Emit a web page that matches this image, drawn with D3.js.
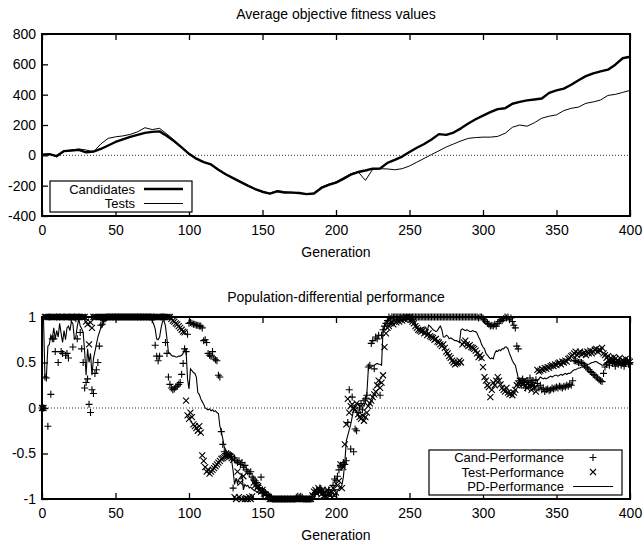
<!DOCTYPE html>
<html>
<head>
<meta charset="utf-8">
<script src="https://cdn.jsdelivr.net/npm/d3@7"></script>
<style>
	body { margin: 0; background: #fff; }
	svg { display: block; font-family: "Liberation Sans", Arial, sans-serif; }
</style>
</head>
<body>
<script>
// ---- top panel: average objective fitness, one value every 5 generations (0..400)
var fitStep = 5
var candidates = [
	5, 8, -5, 28, 32, 36, 20, 25, 42, 65,
	88, 105, 122, 135, 148, 155, 158, 128, 92, 52,
	10, -22, -45, -60, -95, -125, -150, -175, -200, -222,
	-240, -252, -238, -245, -246, -248, -256, -252, -215, -195,
	-180, -155, -128, -110, -100, -88, -87, -50, -30, -8,
	22, 50, 75, 105, 140, 135, 150, 178, 210, 238,
	262, 285, 305, 310, 340, 352, 362, 368, 375, 412,
	428, 440, 465, 495, 522, 540, 553, 565, 598, 640,
	650
]
var tests = [
	5, 8, -10, 25, 35, 42, 35, 22, 75, 112,
	122, 128, 138, 155, 182, 170, 178, 140, 100, 55,
	12, -20, -45, -62, -98, -128, -152, -178, -202, -225,
	-245, -250, -232, -240, -243, -250, -255, -250, -210, -190,
	-175, -148, -122, -108, -165, -92, -88, -90, -95, -88,
	-70, -45, -20, 5, 30, 55, 75, 95, 112, 117,
	120, 120, 125, 145, 185, 200, 192, 215, 245, 258,
	267, 295, 310, 318, 343, 352, 365, 395, 402, 415,
	428
]

// ---- bottom panel: one value per generation (0..400)
var candPerf = [
	0, 0, 0.34, 0.33, -0.2, 1, 0.15, 0.76, 0.76, 0.62,
	1, 0.5, 1, 0.62, 0.6, 1, 0.58, 0.6, 0.55, 1,
	0.97, 0.67, 1, 0.98, 0.76, 1, 0.83, 0.65, 0.5, 0.22,
	0.28, 0.32, 0.04, -0.05, 0.2, 0.16, 0.38, 0.42, 0.5, 0.68,
	0.91, 0.92, 0.96, 0.98, 1, 1, 1, 1, 1, 1,
	1, 1, 1, 1, 1, 1, 1, 1, 1, 1,
	1, 1, 1, 1, 1, 1, 1, 1, 1, 1,
	1, 1, 1, 1, 1, 0.97, 1, 0.69, 0.57, 0.52,
	0.57, 1, 1, 1, 0.72, 0.6, 0.34, 0.26, 0.22, 0.2,
	0.21, 0.23, 0.24, 0.26, 0.28, 0.37, 0.49, 0.65, 0.62, 0.81,
	0.93, 0.94, 0.93, 0.92, 0.92, 0.91, 0.91, 0.9, 0.9, 0.88,
	0.74, 0.75, 0.72, 0.6, 0.58, 0.57, 0.62, 0.55, 0.53, 0.52,
	0.36, 0.34, -0.26, -0.4, -0.48, -0.5, -0.52, -0.5, -0.51, -0.53,
	-0.88, -0.55, -0.58, -0.6, -0.58, -0.62, -0.6, -0.65, -0.63, -0.68,
	-0.7, -0.72, -0.7, -0.76, -0.78, -0.8, -0.82, -0.85, -0.88, -0.76,
	-0.9, -0.92, -0.93, -0.95, -0.96, -0.97, -0.98, -1, -1, -1,
	-1, -1, -1, -1, -1, -1, -1, -1, -1, -1,
	-1, -1, -1, -0.98, -0.97, -0.98, -0.97, -0.98, -1, -1,
	-1, -1, -1, -1, -0.97, -0.95, -0.93, -0.9, -0.92, -0.88,
	-0.9, -0.93, -0.95, -0.96, -0.95, -0.9, -0.93, -0.97, -0.85, -0.78,
	-0.8, -0.75, -0.68, -0.63, -0.65, -0.6, -0.62, -0.58, -0.16, 0.2,
	-0.45, 0.12, -0.48, -0.23, -0.25, -0.05, 0, 0.05, -0.02, 0.08,
	0.1, 0.14, 0.45, 0.47, 0.71, 0.74, 0.43, 0.78, 0.76, 0.8,
	0.14, 0.8, 0.86, 0.9, 0.93, 0.96, 1, 0.98, 1, 1,
	1, 1, 1, 1, 1, 1, 1, 1, 1, 1,
	1, 1, 1, 1, 1, 1, 1, 1, 1, 1,
	1, 1, 1, 1, 1, 1, 1, 1, 1, 1,
	1, 1, 1, 1, 1, 1, 1, 1, 1, 1,
	1, 1, 1, 1, 1, 1, 1, 1, 1, 1,
	1, 1, 1, 1, 1, 1, 1, 0.99, 1, 1,
	0.99, 0.97, 0.95, 0.93, 0.92, 0.9, 0.91, 0.9, 0.92, 0.9,
	0.93, 0.95, 0.97, 0.96, 0.98, 1, 0.99, 1, 0.97, 0.99,
	0.95, 0.91, 0.88, 0.68, 0.65, 0.3, 0.25, 0.32, 0.28, 0.22,
	0.3, 0.26, 0.33, 0.28, 0.3, 0.24, 0.31, 0.27, 0.22, 0.25,
	0.2, 0.22, 0.18, 0.2, 0.21, 0.19, 0.2, 0.22, 0.21, 0.22,
	0.23, 0.22, 0.24, 0.23, 0.22, 0.24, 0.23, 0.25, 0.24, 0.26,
	0.25, 0.3, 0.52, 0.52, 0.51, 0.5, 0.5, 0.5, 0.49, 0.47,
	0.45, 0.44, 0.42, 0.4, 0.39, 0.37, 0.36, 0.34, 0.33, 0.31,
	0.3, 0.29, 0.38, 0.45, 0.48, 0.5, 0.47, 0.52, 0.49, 0.51,
	0.46, 0.5, 0.48, 0.52, 0.47, 0.5, 0.46, 0.49, 0.52, 0.48,
	0.5
]
var testPerf = [
	0, 0, 1, 1, 1, 1, 1, 1, 1, 1,
	1, 1, 1, 1, 1, 1, 1, 1, 1, 1,
	1, 1, 1, 1, 1, 1, 1, 1, 1, 1,
	0.95, 0.92, 0.7, 0.94, 0.88, 1, 1, 1, 1, 1,
	1, 1, 1, 1, 1, 1, 1, 1, 1, 1,
	1, 1, 1, 1, 1, 1, 1, 1, 1, 1,
	1, 1, 1, 1, 1, 1, 1, 1, 1, 1,
	1, 1, 1, 1, 1, 1, 1, 1, 1, 1,
	1, 1, 1, 1, 1, 1, 1, 1, 0.98, 0.96,
	0.95, 0.93, 0.92, 0.9, 0.88, 0.86, 0.84, 0.83, 0.08, -0.08,
	-0.12, -0.05, -0.1, -0.18, -0.2, -0.22, -0.25, -0.2, -0.27, -0.52,
	-0.58, -0.65, -0.7, -0.68, -0.72, -0.7, -0.68, -0.66, -0.64, -0.62,
	-0.6, -0.58, -0.56, -0.55, -0.54, -0.53, -0.52, -0.52, -0.53, -0.55,
	-0.57, -0.98, -1, -0.7, -0.98, -0.82, -1, -0.75, -1, -0.99,
	-1, -0.98, -1, -0.97, -0.82, -0.85, -0.88, -0.86, -0.9, -0.92,
	-0.9, -0.94, -0.95, -0.97, -0.98, -1, -1, -1, -1, -1,
	-1, -1, -1, -1, -1, -1, -1, -1, -1, -1,
	-1, -1, -1, -1, -1, -1, -1, -1, -1, -1,
	-1, -1, -1, -1, -0.96, -0.92, -0.9, -0.94, -0.88, -0.92,
	-0.95, -0.9, -0.93, -0.97, -0.9, -0.94, -0.96, -0.92, -0.88, -0.96,
	-0.93, -0.85, -0.8, -0.62, -0.88, -0.65, -0.4, -0.18, 0.1, -0.05,
	0.02, 0.04, 0, -0.02, 0.05, -0.07, -0.1, -0.12, -0.08, -0.14,
	-0.1, -0.05, 0.02, 0.05, 0.08, 0.12, 0.15, 0.18, 0.25, 0.3,
	0.22, 0.28, 0.36, 0.67, 0.82, 0.88, 0.9, 0.93, 0.95, 0.92,
	0.96, 0.94, 0.97, 0.95, 0.98, 0.96, 0.99, 0.97, 1, 0.98,
	1, 0.97, 0.95, 0.93, 0.9, 0.88, 0.86, 0.85, 0.84, 0.85,
	0.82, 0.83, 0.8, 0.82, 0.79, 0.78, 0.77, 0.75, 0.76, 0.73,
	0.72, 0.7, 0.68, 0.7, 0.66, 0.62, 0.6, 0.57, 0.55, 0.52,
	0.5, 0.48, 0.49, 0.5, 0.52, 0.5, 0.7, 0.72, 0.74, 0.7,
	0.68, 0.69, 0.67, 0.66, 0.65, 0.63, 0.6, 0.56, 0.58, 0.55,
	0.45, 0.34, 0.3, 0.25, 0.23, 0.12, 0.2, 0.28, 0.25, 0.3,
	0.34, 0.3, 0.26, 0.22, 0.2, 0.18, 0.22, 0.17, 0.15, 0.16,
	0.14, 0.17, 0.2, 0.25, 0.27, 0.3, 0.28, 0.26, 0.3, 0.25,
	0.22, 0.27, 0.24, 0.2, 0.25, 0.22, 0.18, 0.42, 0.4, 0.41,
	0.43, 0.42, 0.44, 0.43, 0.45, 0.44, 0.46, 0.47, 0.46, 0.48,
	0.47, 0.49, 0.5, 0.48, 0.51, 0.5, 0.52, 0.51, 0.54, 0.55,
	0.57, 0.58, 0.6, 0.62, 0.58, 0.6, 0.62, 0.59, 0.6, 0.61,
	0.58, 0.62, 0.6, 0.63, 0.6, 0.62, 0.64, 0.65, 0.62, 0.64,
	0.63, 0.66, 0.6, 0.58, 0.55, 0.57, 0.53, 0.55, 0.52, 0.56,
	0.54, 0.5, 0.52, 0.55, 0.5, 0.53, 0.51, 0.54, 0.5, 0.52,
	0.51
]
var pdPerf = [
	1, 1, 0.34, 0.34, 0.68, 0.7, 0.8, 0.76, 0.88, 0.76,
	0.85, 0.78, 0.93, 0.82, 0.72, 0.85, 0.75, 0.88, 0.9, 0.85,
	0.95, 0.93, 0.76, 0.78, 0.9, 0.98, 0.9, 0.87, 0.83, 0.62,
	0.36, 0.65, 0.5, 0.6, 0.36, 0.54, 0.62, 0.7, 0.78, 0.83,
	0.88, 0.91, 0.95, 0.98, 1, 1, 1, 1, 1, 1,
	1, 1, 1, 1, 1, 1, 1, 1, 1, 1,
	1, 1, 1, 1, 1, 1, 1, 1, 1, 1,
	1, 1, 1, 1, 1, 0.96, 0.92, 0.87, 0.76, 0.75,
	0.78, 0.88, 0.95, 0.96, 0.9, 0.76, 0.61, 0.6, 0.58, 0.57,
	0.57, 0.56, 0.56, 0.57, 0.57, 0.58, 0.6, 0.65, 0.64, 0.32,
	0.21, 0.43, 0.41, 0.39, 0.38, 0.34, 0.17, 0.15, 0.1, 0.07,
	0.04, 0, -0.01, -0.02, -0.01, -0.03, -0.02, -0.04, -0.03, -0.05,
	-0.06, -0.2, -0.26, -0.34, -0.43, -0.46, -0.49, -0.51, -0.55, -0.58,
	-0.69, -0.84, -0.77, -0.83, -0.78, -0.76, -0.73, -0.9, -0.84, -0.86,
	-0.85, -0.88, -0.87, -0.89, -0.9, -0.91, -0.92, -0.93, -0.94, -0.94,
	-0.95, -0.96, -0.96, -0.97, -0.97, -0.98, -0.99, -1, -1, -1,
	-1, -1, -1, -1, -1, -1, -1, -1, -1, -1,
	-1, -1, -1, -1, -1, -1, -1, -1, -1, -1,
	-1, -1, -1, -1, -1, -1, -1, -1, -1, -1,
	-0.99, -0.98, -0.97, -0.96, -0.95, -0.94, -0.93, -0.92, -0.91, -0.9,
	-0.9, -0.9, -0.89, -0.88, -0.85, -0.76, -0.6, -0.36, -0.3, -0.24,
	-0.18, -0.1, -0.02, 0, 0.03, 0.05, 0.03, 0.02, 0.04, 0.02,
	0.06, 0.16, 0.43, 0.44, 0.45, 0.46, 0.47, 0.48, 0.49, 0.48,
	0.48, 0.47, 0.86, 0.9, 0.94, 0.96, 0.98, 0.99, 1, 1,
	1, 1, 1, 1, 1, 1, 1, 1, 1, 1,
	1, 1, 1, 0.97, 0.93, 0.9, 0.88, 0.87, 0.86, 0.88,
	0.89, 0.89, 0.84, 0.91, 0.9, 0.88, 0.86, 0.85, 0.84, 0.85,
	0.88, 0.9, 0.86, 0.78, 0.78, 0.8, 0.79, 0.76, 0.77, 0.76,
	0.75, 0.74, 0.74, 0.73, 0.72, 0.86, 0.87, 0.86, 0.85, 0.86,
	0.85, 0.84, 0.84, 0.85, 0.84, 0.84, 0.82, 0.78, 0.75, 0.7,
	0.67, 0.65, 0.6, 0.58, 0.56, 0.54, 0.55, 0.54, 0.6, 0.63,
	0.62, 0.64, 0.63, 0.65, 0.65, 0.67, 0.67, 0.65, 0.6, 0.56,
	0.52, 0.49, 0.47, 0.4, 0.33, 0.29, 0.3, 0.31, 0.3, 0.29,
	0.3, 0.31, 0.3, 0.29, 0.3, 0.3, 0.31, 0.3, 0.32, 0.34,
	0.33, 0.32, 0.33, 0.32, 0.33, 0.34, 0.35, 0.34, 0.35, 0.36,
	0.36, 0.35, 0.36, 0.37, 0.36, 0.37, 0.38, 0.37, 0.38, 0.38,
	0.39, 0.41, 0.42, 0.42, 0.43, 0.44, 0.44, 0.45, 0.45, 0.46,
	0.47, 0.48, 0.48, 0.49, 0.5, 0.5, 0.51, 0.51, 0.5, 0.49,
	0.48, 0.47, 0.47, 0.49, 0.5, 0.51, 0.51, 0.5, 0.49, 0.5,
	0.49, 0.5, 0.49, 0.48, 0.49, 0.49, 0.5, 0.5, 0.49, 0.5,
	0.5
]

var xTicks = [0, 50, 100, 150, 200, 250, 300, 350, 400]
var fitTicks = [-400, -200, 0, 200, 400, 600, 800]
var perfTicks = [-1, -0.5, 0, 0.5, 1]

var svg = d3.select("body").append("svg").attr("width", 644).attr("height", 544)

var plotLeft = 42, plotRight = 630, plotH = 182
// plain hyphen minus, no trailing zeros ("1", "0.5", "-200")
var plainFmt = (d) => String(d)

// draws frame, axes, labels and the dotted zero line, returns scales
function make_panel(top, yDomain, yTicks, title) {
	var x = d3.scaleLinear().domain([0, 400]).range([plotLeft, plotRight])
	var y = d3.scaleLinear().domain(yDomain).range([top + plotH, top])
	var g = svg.append("g")

	g.append("line")
		.attr("x1", plotLeft).attr("x2", plotRight)
		.attr("y1", y(0)).attr("y2", y(0))
		.attr("stroke", "#333").attr("stroke-width", 1)
		.attr("stroke-dasharray", "1,2")

	var left = g.append("g").attr("transform", "translate(" + plotLeft + ",0)")
		.call(d3.axisLeft(y).tickValues(yTicks).tickSize(-6).tickPadding(6).tickFormat(plainFmt))
	var bottom = g.append("g").attr("transform", "translate(0," + (top + plotH) + ")")
		.call(d3.axisBottom(x).tickValues(xTicks).tickSize(-6).tickPadding(9).tickFormat(plainFmt))
	var topAx = g.append("g").attr("transform", "translate(0," + top + ")")
		.call(d3.axisTop(x).tickValues(xTicks).tickSize(-6).tickFormat(""))
	;[left, bottom, topAx].forEach(function (a) {
		a.select(".domain").remove()
		a.selectAll(".tick line").attr("stroke", "#000").attr("stroke-width", 1.3)
		a.selectAll("text").attr("font-size", 14).attr("fill", "#000")
			.attr("font-family", "'Liberation Sans', Arial, sans-serif")
	})

	g.append("rect")
		.attr("x", plotLeft).attr("y", top)
		.attr("width", plotRight - plotLeft).attr("height", plotH)
		.attr("fill", "none").attr("stroke", "#000").attr("stroke-width", 2)

	g.append("text").attr("x", (plotLeft + plotRight) / 2).attr("y", top - 15)
		.attr("text-anchor", "middle").attr("font-size", 14).text(title)
	g.append("text").attr("x", (plotLeft + plotRight) / 2).attr("y", top + plotH + 41)
		.attr("text-anchor", "middle").attr("font-size", 14).text("Generation")

	return { x: x, y: y, g: g }
}

// ---------- top panel
var p1 = make_panel(34, [-400, 800], fitTicks, "Average objective fitness values")
var fitLine = d3.line().x((d, i) => p1.x(i * fitStep)).y((d) => p1.y(d))
p1.g.append("path").datum(tests).attr("d", fitLine)
	.attr("fill", "none").attr("stroke", "#000").attr("stroke-width", 1)
p1.g.append("path").datum(candidates).attr("d", fitLine)
	.attr("fill", "none").attr("stroke", "#000").attr("stroke-width", 2.4)
	.attr("stroke-linejoin", "round")

var leg1 = p1.g.append("g")
leg1.append("rect").attr("x", 50).attr("y", 181).attr("width", 142).attr("height", 31)
	.attr("fill", "#fff").attr("stroke", "#000").attr("stroke-width", 1.2)
var leg1Items = [["Candidates", 2.4], ["Tests", 1]]
leg1Items.forEach(function (it, i) {
	var cy = 189 + i * 14.5
	leg1.append("text").attr("x", 135).attr("y", cy + 4.5).attr("text-anchor", "end")
		.attr("font-size", 13).text(it[0])
	leg1.append("line").attr("x1", 144).attr("x2", 183).attr("y1", cy).attr("y2", cy)
		.attr("stroke", "#000").attr("stroke-width", it[1])
})

// ---------- bottom panel
var p2 = make_panel(317, [-1, 1], perfTicks, "Population-differential performance")
var plusPath = "M-3.5,0H3.5M0,-3.5V3.5"
var crossPath = "M-3,-3L3,3M-3,3L3,-3"

p2.g.append("path").datum(pdPerf)
	.attr("d", d3.line().x((d, i) => p2.x(i)).y((d) => p2.y(d)))
	.attr("fill", "none").attr("stroke", "#000").attr("stroke-width", 1.1)

p2.g.append("g").selectAll("path").data(candPerf).enter().append("path")
	.attr("d", plusPath)
	.attr("transform", (d, i) => "translate(" + p2.x(i) + "," + p2.y(d) + ")")
	.attr("stroke", "#000").attr("stroke-width", 1.1).attr("fill", "none")
p2.g.append("g").selectAll("path").data(testPerf).enter().append("path")
	.attr("d", crossPath)
	.attr("transform", (d, i) => "translate(" + p2.x(i) + "," + p2.y(d) + ")")
	.attr("stroke", "#000").attr("stroke-width", 1.1).attr("fill", "none")

var leg2 = p2.g.append("g")
leg2.append("rect").attr("x", 429).attr("y", 450).attr("width", 193).attr("height", 45)
	.attr("fill", "#fff").attr("stroke", "#000").attr("stroke-width", 1.2)
var leg2Items = ["Cand-Performance", "Test-Performance", "PD-Performance"]
leg2Items.forEach(function (name, i) {
	var cy = 457.5 + i * 14.5
	leg2.append("text").attr("x", 564).attr("y", cy + 4.5).attr("text-anchor", "end")
		.attr("font-size", 13).text(name)
	if (i == 2) {
		leg2.append("line").attr("x1", 573).attr("x2", 613).attr("y1", cy).attr("y2", cy)
			.attr("stroke", "#000").attr("stroke-width", 1.1)
	} else {
		leg2.append("path").attr("d", i == 0 ? plusPath : crossPath)
			.attr("transform", "translate(593," + cy + ")")
			.attr("stroke", "#000").attr("stroke-width", 1.1).attr("fill", "none")
	}
})
</script>
</body>
</html>
